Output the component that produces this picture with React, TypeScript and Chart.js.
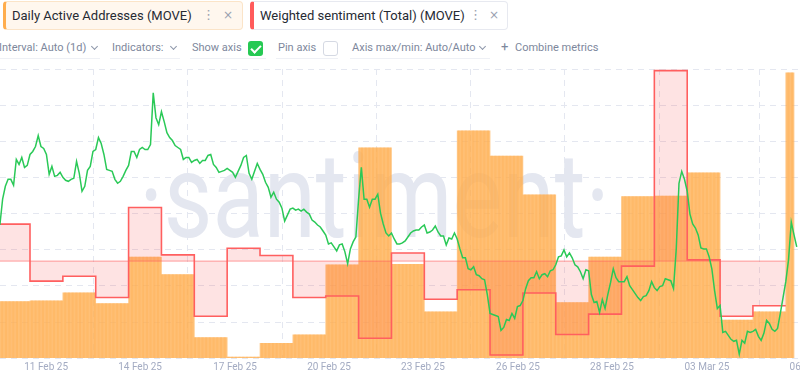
import React, { useEffect, useRef } from 'react';
import { Chart, registerables } from 'chart.js';

Chart.register(...registerables);

// Days shown: day index 0 = 10 Feb 2025 ... 24 = 06 Mar 2025
const dayLabels = [
  '10 Feb', '11 Feb', '12 Feb', '13 Feb', '14 Feb', '15 Feb', '16 Feb', '17 Feb', '18 Feb', '19 Feb',
  '20 Feb', '21 Feb', '22 Feb', '23 Feb', '24 Feb', '25 Feb', '26 Feb', '27 Feb', '28 Feb', '01 Mar',
  '02 Mar', '03 Mar', '04 Mar', '05 Mar', '06 Mar',
];

// Daily Active Addresses (MOVE), one value per day
const dailyActiveAddresses = [
  783, 793, 903, 756, 1397, 1158, 284, 15, 206, 323,
  1290, 2909, 1300, 641, 3146, 2794, 2258, 770, 1397, 2235,
  2244, 2565, 526, 641, 3947,
];
const lastDayHours = 6; // the last day is incomplete

// Weighted sentiment (Total) (MOVE), one value per day
const weightedSentiment = [
  1.24, -0.67, -0.51, -1.22, 1.8, 0.21, -1.85, 0.43, 0.19, -1.22,
  -1.17, -2.59, 0.27, -1.28, -0.96, -3.15, -1.07, -2.46, -1.78, -0.17,
  6.39, 0.04, -1.85, -1.5,
];

// MOVE price, every 2 hours from 10 Feb 00:00 (one row per day)
const priceStepHours = 2;
const price = [
  0.480, 0.484, 0.510, 0.523, 0.530, 0.530, 0.524, 0.550, 0.545, 0.552, 0.542, 0.544,
  0.555, 0.558, 0.563, 0.574, 0.563, 0.561, 0.555, 0.535, 0.543, 0.533, 0.534, 0.537,
  0.532, 0.529, 0.528, 0.530, 0.531, 0.548, 0.536, 0.518, 0.523, 0.539, 0.543, 0.558,
  0.560, 0.572, 0.566, 0.555, 0.540, 0.539, 0.538, 0.530, 0.526, 0.528, 0.533, 0.539,
  0.544, 0.558, 0.558, 0.552, 0.560, 0.562, 0.560, 0.560, 0.565, 0.617, 0.592, 0.585,
  0.598, 0.588, 0.577, 0.572, 0.569, 0.564, 0.562, 0.560, 0.550, 0.552, 0.552, 0.547,
  0.549, 0.550, 0.546, 0.549, 0.549, 0.554, 0.555, 0.545, 0.542, 0.537, 0.538, 0.539,
  0.541, 0.539, 0.537, 0.532, 0.538, 0.544, 0.552, 0.554, 0.536, 0.530, 0.538, 0.546,
  0.540, 0.535, 0.527, 0.522, 0.512, 0.517, 0.510, 0.507, 0.501, 0.488, 0.494, 0.500,
  0.501, 0.499, 0.500, 0.498, 0.500, 0.497, 0.495, 0.489, 0.487, 0.484, 0.482, 0.478,
  0.474, 0.465, 0.466, 0.462, 0.458, 0.464, 0.465, 0.457, 0.445, 0.460, 0.467, 0.472,
  0.510, 0.542, 0.510, 0.510, 0.502, 0.510, 0.510, 0.515, 0.496, 0.485, 0.476, 0.473,
  0.476, 0.470, 0.465, 0.465, 0.466, 0.468, 0.472, 0.476, 0.478, 0.479, 0.479, 0.482,
  0.484, 0.476, 0.477, 0.479, 0.483, 0.477, 0.473, 0.473, 0.464, 0.471, 0.470, 0.476,
  0.470, 0.460, 0.451, 0.451, 0.440, 0.439, 0.442, 0.434, 0.433, 0.430, 0.429, 0.414,
  0.395, 0.394, 0.393, 0.392, 0.378, 0.381, 0.389, 0.388, 0.395, 0.390, 0.402, 0.403,
  0.408, 0.420, 0.428, 0.431, 0.431, 0.437, 0.430, 0.434, 0.435, 0.432, 0.438, 0.439,
  0.444, 0.452, 0.453, 0.459, 0.452, 0.456, 0.451, 0.444, 0.442, 0.437, 0.430, 0.439,
  0.438, 0.414, 0.406, 0.407, 0.396, 0.409, 0.400, 0.414, 0.426, 0.440, 0.431, 0.427,
  0.427, 0.427, 0.432, 0.423, 0.419, 0.415, 0.411, 0.408, 0.412, 0.413, 0.418, 0.427,
  0.421, 0.418, 0.422, 0.423, 0.430, 0.429, 0.428, 0.420, 0.460, 0.526, 0.538, 0.530,
  0.518, 0.495, 0.485, 0.481, 0.474, 0.461, 0.460, 0.460, 0.452, 0.440, 0.418, 0.400,
  0.403, 0.376, 0.377, 0.373, 0.369, 0.367, 0.368, 0.354, 0.368, 0.365, 0.377, 0.376,
  0.377, 0.379, 0.372, 0.368, 0.375, 0.388, 0.385, 0.379, 0.377, 0.380, 0.395, 0.411,
  0.427, 0.449, 0.487, 0.474, 0.462,
];

// x-axis ticks (in days since 10 Feb 00:00) and their labels
const tickDays = [1.49, 4.35, 7.24, 10.1, 12.96, 15.85, 18.71, 21.6, 24.8];
const tickLabels = ['11 Feb 25', '14 Feb 25', '17 Feb 25', '20 Feb 25', '23 Feb 25', '26 Feb 25', '28 Feb 25', '03 Mar 25', '06 Mar 25'];

// visible window (days since 10 Feb 00:00)
const viewStartDay = 0.087;
const viewEndDay = 26.867;

export default function App() {
  const ref = useRef<HTMLCanvasElement | null>(null);

  useEffect(() => {
    if (!ref.current) return;

    const barData: { x: number; y: number }[] = [];
    dailyActiveAddresses.forEach((v, d) => {
      const hours = d === dailyActiveAddresses.length - 1 ? lastDayHours : 24;
      for (let h = 0; h < hours; h++) barData.push({ x: d + (h + 0.5) / 24, y: v });
    });

    const sentData = weightedSentiment.map((v, d) => ({ x: d, y: v }));
    sentData.push({ x: weightedSentiment.length, y: weightedSentiment[weightedSentiment.length - 1] });
    const zeroData = [
      { x: 0, y: 0 },
      { x: weightedSentiment.length, y: 0 },
    ];
    const priceData = price.map((v, i) => ({ x: (i * priceStepHours) / 24, y: v }));

    const gridColor = '#e4e7f0';

    const chart = new Chart(ref.current, {
      type: 'bar',
      data: {
        datasets: [
          {
            type: 'line',
            label: 'Price (MOVE)',
            data: priceData,
            yAxisID: 'yPrice',
            borderColor: '#2ac957',
            borderWidth: 1.5,
            pointRadius: 0,
            tension: 0,
            order: 0,
          } as any,
          {
            type: 'line',
            label: 'Weighted sentiment (Total) (MOVE)',
            data: sentData,
            yAxisID: 'ySent',
            stepped: 'before',
            borderColor: '#ff5f5f',
            borderWidth: 1.6,
            pointRadius: 0,
            fill: { value: 0 },
            backgroundColor: 'rgba(245, 70, 70, 0.15)',
            order: 1,
          } as any,
          {
            type: 'line',
            label: 'zero',
            data: zeroData,
            yAxisID: 'ySent',
            borderColor: 'rgba(255, 95, 95, 0.6)',
            borderWidth: 1,
            pointRadius: 0,
            fill: false,
            order: 2,
          } as any,
          {
            type: 'bar',
            label: 'Daily Active Addresses (MOVE)',
            data: barData,
            yAxisID: 'yBars',
            backgroundColor: 'rgba(255, 173, 77, 0.72)',
            borderWidth: 0,
            barPercentage: 1,
            categoryPercentage: 1,
            order: 3,
          } as any,
        ],
      },
      options: {
        animation: false,
        responsive: false,
        devicePixelRatio: 1,
        events: [],
        layout: { padding: { top: 9, bottom: 3.8, left: 0, right: 0 } },
        plugins: { legend: { display: false }, tooltip: { enabled: false } },
        scales: {
          x: {
            type: 'linear',
            min: viewStartDay,
            max: viewEndDay,
            offset: false,
            afterBuildTicks: (axis: any) => {
              axis.ticks = tickDays.map((v) => ({ value: v }));
            },
            ticks: {
              autoSkip: false,
              maxRotation: 0,
              padding: 3,
              color: '#a3abc2',
              font: { family: 'Roboto', size: 10 },
              callback: (_v: any, i: number) => tickLabels[i],
            },
            grid: { color: gridColor, drawTicks: false, lineWidth: 1 },
            border: { display: false, dash: [6, 5] },
          },
          yBars: {
            position: 'left',
            min: 0,
            max: 4000,
            ticks: { display: false, stepSize: 500 },
            grid: { color: gridColor, drawTicks: false },
            border: { display: false, dash: [6, 5] },
          },
          ySent: {
            display: false,
            min: -3.2567,
            max: 6.4433,
          },
          yPrice: {
            display: false,
            min: 0.35,
            max: 0.641,
          },
        },
      } as any,
    });
    return () => chart.destroy();
  }, []);

  const rowText: React.CSSProperties = {
    position: 'absolute',
    top: 41,
    fontFamily: 'Roboto',
    fontSize: 11,
    lineHeight: '14px',
    color: '#7d879c',
    whiteSpace: 'nowrap',
  };
  const chevron = (left: number): React.CSSProperties => ({
    position: 'absolute',
    left,
    top: 44,
    width: 4,
    height: 4,
    borderRight: '1px solid #8e97aa',
    borderBottom: '1px solid #8e97aa',
    transform: 'rotate(45deg)',
  });
  const underline = (left: number, width: number): React.CSSProperties => ({
    position: 'absolute',
    left,
    top: 58,
    width,
    height: 1,
    background: '#eef0f5',
  });
  const chipText: React.CSSProperties = {
    position: 'absolute',
    top: 8,
    fontFamily: 'Roboto',
    fontSize: 13,
    lineHeight: '16px',
    color: '#262a33',
    whiteSpace: 'nowrap',
  };
  const kebab: React.CSSProperties = {
    position: 'absolute',
    top: 7,
    fontFamily: 'DejaVu Sans',
    fontSize: 13,
    lineHeight: '16px',
    color: '#9aa1b0',
  };
  const close: React.CSSProperties = {
    position: 'absolute',
    top: 7,
    fontFamily: 'DejaVu Sans',
    fontSize: 12,
    lineHeight: '16px',
    color: '#9aa1b0',
  };
  const handle = (left: number): React.CSSProperties => ({
    position: 'absolute',
    left,
    top: -3,
    width: 8,
    height: 8,
    background: '#1f2024',
    transform: 'rotate(45deg)',
    borderRadius: 2,
  });

  return (
    <div
      style={{
        position: 'fixed',
        left: 0,
        top: 0,
        width: 800,
        height: 380,
        overflow: 'hidden',
        background: '#ffffff',
      }}
    >
      {/* watermark */}
      <div
        style={{
          position: 'absolute',
          left: 139,
          top: 138,
          fontFamily: 'Roboto',
          fontWeight: 400,
          fontSize: 118,
          lineHeight: 1,
          color: '#e4e7f0',
          whiteSpace: 'nowrap',
          transform: 'scaleX(0.8)',
          transformOrigin: 'left top',
          zIndex: 0,
        }}
      >
        ·santiment·
      </div>

      <canvas
        ref={ref}
        width={880}
        height={320}
        style={{ position: 'absolute', left: 0, top: 60, width: 880, height: 320, zIndex: 1 }}
      />

      {/* metric chips */}
      <div
        style={{
          position: 'absolute',
          left: 3,
          top: 1,
          width: 240,
          height: 29,
          boxSizing: 'border-box',
          background: '#fff7ee',
          border: '1px solid #fbe4c8',
          borderLeft: '3px solid #ffad4d',
          borderRadius: 4,
          zIndex: 2,
        }}
      />
      <div style={{ ...chipText, left: 12, zIndex: 3 }}>Daily Active Addresses (MOVE)</div>
      <div style={{ ...kebab, left: 202, zIndex: 3 }}>⋮</div>
      <div style={{ ...close, left: 223, zIndex: 3 }}>×</div>
      <div style={{ ...handle, left: 238, zIndex: 3 }} />

      <div
        style={{
          position: 'absolute',
          left: 250,
          top: 1,
          width: 258,
          height: 29,
          boxSizing: 'border-box',
          background: '#ffffff',
          border: '1px solid #e7e9f0',
          borderLeft: '4px solid #ff5b5b',
          borderRadius: 4,
          zIndex: 2,
        }}
      />
      <div style={{ ...chipText, left: 260, zIndex: 3 }}>Weighted sentiment (Total) (MOVE)</div>
      <div style={{ ...kebab, left: 469, zIndex: 3 }}>⋮</div>
      <div style={{ ...close, left: 489, zIndex: 3 }}>×</div>
      <div style={{ ...handle, left: 504, zIndex: 3 }} />

      {/* settings row */}
      <div style={{ ...rowText, left: -1 }}>Interval: Auto (1d)</div>
      <div style={chevron(92)} />
      <div style={underline(0, 100)} />

      <div style={{ ...rowText, left: 112 }}>Indicators:</div>
      <div style={chevron(171)} />
      <div style={underline(110, 70)} />

      <div style={{ ...rowText, left: 192 }}>Show axis</div>
      <div
        style={{
          position: 'absolute',
          left: 248,
          top: 41,
          width: 15,
          height: 15,
          borderRadius: 3,
          background: '#26c953',
        }}
      >
        <div
          style={{
            position: 'absolute',
            left: 5,
            top: 2,
            width: 4,
            height: 8,
            borderRight: '2px solid #ffffff',
            borderBottom: '2px solid #ffffff',
            transform: 'rotate(45deg)',
          }}
        />
      </div>
      <div style={underline(190, 76)} />

      <div style={{ ...rowText, left: 278 }}>Pin axis</div>
      <div
        style={{
          position: 'absolute',
          left: 323,
          top: 41,
          width: 15,
          height: 15,
          boxSizing: 'border-box',
          borderRadius: 3,
          border: '1px solid #d5d9e3',
          background: '#ffffff',
        }}
      />
      <div style={underline(276, 62)} />

      <div style={{ ...rowText, left: 352 }}>Axis max/min: Auto/Auto</div>
      <div style={chevron(480)} />
      <div style={underline(350, 140)} />

      <div style={{ ...rowText, left: 501, fontSize: 13, top: 40 }}>+</div>
      <div style={{ ...rowText, left: 515 }}>Combine metrics</div>
    </div>
  );
}
